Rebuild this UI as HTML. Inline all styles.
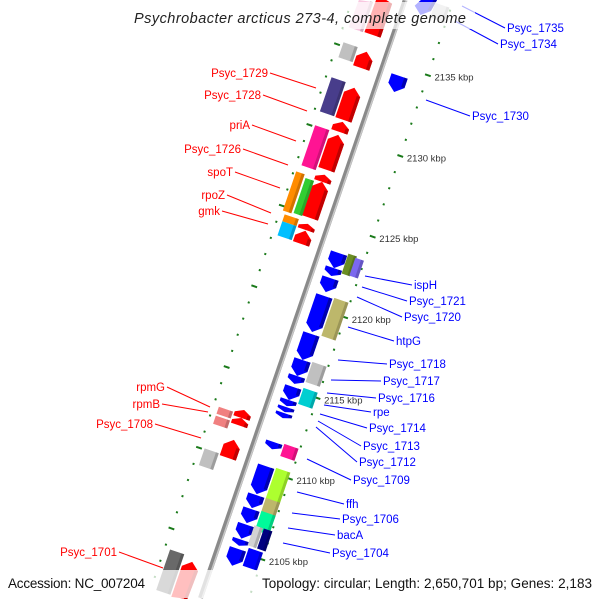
<!DOCTYPE html>
<html><head><meta charset="utf-8"><style>
html,body{margin:0;padding:0;background:#fff;width:600px;height:600px;overflow:hidden;}
svg{display:block;}
</style></head><body>
<svg id="map" width="600" height="600" viewBox="0 0 600 600" xmlns="http://www.w3.org/2000/svg" font-family="'Liberation Sans', sans-serif" overflow="hidden">
<rect width="600" height="598" fill="#fff"/>
<g id="track"></g>
<g id="labels"></g>
<rect x="125" y="2" width="350" height="27" fill="#fff" fill-opacity="0.7"/>
<text x="300" y="23" text-anchor="middle" font-size="14.5" font-style="italic" fill="#222" textLength="332">Psychrobacter arcticus 273-4, complete genome</text>
<rect x="0" y="570" width="600" height="28" fill="#fff" fill-opacity="0.75"/>
<text x="8" y="588" font-size="13.5" fill="#111" textLength="137">Accession: NC_007204</text>
<text x="262" y="588" font-size="13.5" fill="#111" textLength="330">Topology: circular; Length: 2,650,701 bp; Genes: 2,183</text>
</svg>
<script>
// kbp ticks
const tickKbp = [2135,2130,2125,2120,2115,2110,2105];
const tickLabels = ["2135 kbp","2130 kbp","2125 kbp","2120 kbp","2115 kbp","2110 kbp","2105 kbp"];
// forward-strand arrows (red, point up): start kbp, end kbp
const fwdStart = [2138.7,2135.14,2132.91,2130.80,2129.99,2127.52,2127.08,2124.48,2124.05,2112.95,2112.45,2111.10,2103.54];
const fwdEnd   = [2136.19,2134.14,2130.92,2130.18,2127.83,2127.08,2124.85,2124.10,2123.24,2112.45,2112.00,2109.98,2101.2];
// forward-strand category blocks
const fwdBlkStart = [2138.02,2135.23,2133.06,2130.09,2127.17,2126.98,2124.57,2124.14,2112.65,2112.10,2110.07,2103.81];
const fwdBlkEnd   = [2136.16,2134.30,2130.95,2127.61,2124.75,2124.81,2124.14,2123.27,2112.22,2111.60,2109.03,2101.3];
const fwdBlkColor = ["#f8c8e0","#c0c0c0","#483d8b","#ff1493","#ff8c00","#32cd32","#ff8c00","#00bfff","#f08080","#f08080","#c0c0c0","#696969"];
const fwdBlkLane  = [-37,-37,-37,-37,-43,-32,-37,-37,-37,-37,-37,-37];
// reverse-strand arrows (blue, point down)
const revStart = [2139.74,2134.42,2123.45,2122.52,2121.90,2120.79,2118.44,2116.83,2115.84,2115.16,2114.35,2113.91,2113.54,2111.73,2110.25,2108.46,2107.59,2106.63,2105.70,2105.13];
const revEnd   = [2138.20,2133.43,2122.52,2122.03,2121.03,2118.56,2116.83,2115.84,2115.35,2114.35,2113.97,2113.60,2113.23,2111.30,2108.52,2107.65,2106.72,2105.76,2105.32,2104.08];
// reverse-strand category blocks
const revBlkStart = [2139.16,2123.60,2123.50,2120.88,2116.91,2115.30,2111.83,2110.35,2108.49,2107.68,2106.75,2106.75,2105.39];
const revBlkEnd   = [2138.23,2122.37,2122.40,2118.53,2115.67,2114.31,2111.08,2108.37,2107.50,2106.50,2105.51,2105.51,2104.28];
const revBlkColor = ["#d3d3d3","#6b8e23","#7b68ee","#bdb76b","#c0c0c0","#00ced1","#ff1493","#adff2f","#bdb76b","#00fa9a","#d3d3d3","#000080","#0000ff"];
const revBlkLane  = [37,33,41,37,37,37,37,37,37,37,32,42,37];

const NS="http://www.w3.org/2000/svg";
const track=document.getElementById('track');
const labels=document.getElementById('labels');
const TH=18.88*Math.PI/180, C=Math.cos(TH), S=Math.sin(TH);
function ly(k){return 63.8+(2135-k)*17.06;}
function P(x,y){return [405+x*C-y*S, x*S+y*C];}
function clampPts(pts){return pts.map(function(q){const p=P(q[0],q[1]);return [p[0].toFixed(2),Math.max(0,Math.min(599,p[1])).toFixed(2)].join(',');}).join(' ');}
function mk(tag,attrs,parent){const e=document.createElementNS(NS,tag);for(const a in attrs)e.setAttribute(a,attrs[a]);parent.appendChild(e);return e;}
function quad(x0,x1,y0,y1,fill,op){return mk('polygon',{points:clampPts([[x0,y0],[x1,y0],[x1,y1],[x0,y1]]),fill:fill,'fill-opacity':op===undefined?1:op},track);}

// axis backbone
let ax=quad(-2.5,2.5,0,632,'#8a8a8a');


quad(0.8,2.3,0,632,'#c8c8c8');

// dotted tick rails
for(let k=2101;k<=2139;k++){
  const y=ly(k);
  const major=(k%5===0);
  [-50,46].forEach(function(x){
    const sy=P(x,y)[1];
    if(sy>592||sy<4) return;
    const d=quad(x-(major?3:1),x+(major?3:1),y-1,y+1,'#1a7a1a');
    
    
  });
}
tickKbp.forEach(function(k,i){
  const p=P(54,ly(k)+3);
  const t=mk('text',{x:p[0].toFixed(1),y:p[1].toFixed(1),'font-size':9.5,fill:'#333'},track);
  t.textContent=tickLabels[i];
  
  
});

// forward arrows
fwdStart.forEach(function(s,i){
  const y1=ly(s),y2=ly(fwdEnd[i]);
  const len=y2-y1; const head=Math.min(7,len*0.5);
  const x0=-28,x1=-11;
  const p=mk('polygon',{points:clampPts([[x0,y2],[x0,y1+head],[(x0+x1)/2,y1],[x1,y1+head],[x1,y2]]),fill:'#ff0000'},track);
  
  
  quad(x1-3.5,x1,y1+head,y2,'#c00000');
});
fwdBlkStart.forEach(function(s,i){
  const y1=ly(s),y2=ly(fwdBlkEnd[i]);
  const w=(fwdBlkLane[i]===-37)?15:9;
  const r=quad(fwdBlkLane[i]-w/2,fwdBlkLane[i]+w/2,y1,y2,fwdBlkColor[i]);
  
  
  quad(fwdBlkLane[i]+w/2-3,fwdBlkLane[i]+w/2,y1,y2,'#000',0.18);
});
// reverse arrows
revStart.forEach(function(s,i){
  const y1=ly(s),y2=ly(revEnd[i]);
  const len=y2-y1; const head=Math.min(7,len*0.5);
  const x0=11,x1=28;
  const p=mk('polygon',{points:clampPts([[x0,y1],[x0,y2-head],[(x0+x1)/2,y2],[x1,y2-head],[x1,y1]]),fill:'#0000ff'},track);
  
  
  quad(x1-3.5,x1,y1,y2-head,'#0000b0');
});
revBlkStart.forEach(function(s,i){
  const y1=ly(s),y2=ly(revBlkEnd[i]);
  const w=(revBlkLane[i]===37)?15:9;
  const r=quad(revBlkLane[i]-w/2,revBlkLane[i]+w/2,y1,y2,revBlkColor[i]);
  
  
  quad(revBlkLane[i]+w/2-3,revBlkLane[i]+w/2,y1,y2,'#000',0.18);
});

// labels
const redNames=["Psyc_1729","Psyc_1728","priA","Psyc_1726","spoT","rpoZ","gmk","rpmG","rpmB","Psyc_1708","Psyc_1701"];
const redPos=[[268,73,316,88],[261,95,307,111],[250,125,296,141],[241,149,288,165],[233,172,280,188],[225,195,271,213],[220,211,268,224],[165,387,210,407],[160,404,208,412],[153,424,201,438],[117,552,163,568]];
redNames.forEach(function(n,i){
  const p=redPos[i];
  mk('line',{x1:p[0]+2,y1:p[1],x2:p[2],y2:p[3],stroke:'#ff0000','stroke-width':1},labels);
  const t=mk('text',{x:p[0],y:p[1]+4,'text-anchor':'end','font-size':11.5,fill:'#ff0000'},labels);
  t.textContent=n;
  
  
});
const blueNames=["Psyc_1735","Psyc_1734","Psyc_1730","ispH","Psyc_1721","Psyc_1720","htpG","Psyc_1718","Psyc_1717","Psyc_1716","rpe","Psyc_1714","Psyc_1713","Psyc_1712","Psyc_1709","ffh","Psyc_1706","bacA","Psyc_1704"];
const bluePos=[[507,28,462,6],[500,44,455,21],[472,116,426,100],[414,285,365,276],[409,301,362,287],[404,317,357,297],[396,341,348,327],[389,364,338,360],[383,381,331,380],[378,398,327,393],[373,412,324,405],[369,428,320,414],[363,446,318,421],[359,462,316,427],[353,480,307,459],[346,504,297,492],[342,519,292,513],[337,535,288,528],[332,553,283,543]];
blueNames.forEach(function(n,i){
  const p=bluePos[i];
  mk('line',{x1:p[2],y1:p[3],x2:p[0]-2,y2:p[1],stroke:'#0000ff','stroke-width':1},labels);
  const t=mk('text',{x:p[0],y:p[1]+4,'font-size':11.5,fill:'#0000ff'},labels);
  t.textContent=n;
  
  
});
</script>
</body></html>
